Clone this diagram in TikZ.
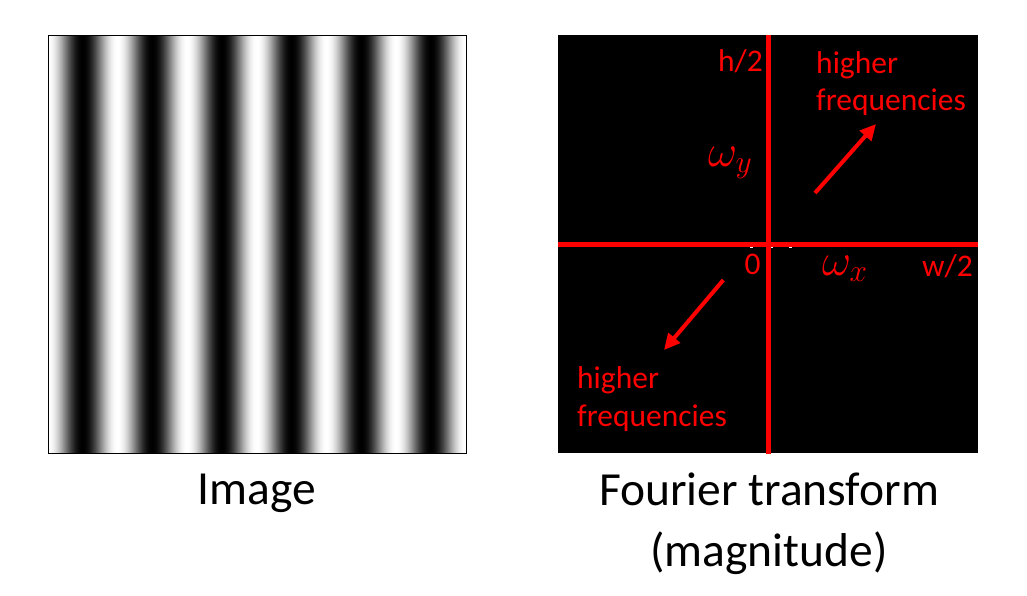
\documentclass[tikz,border=0pt]{standalone}
\usepackage{fix-cm}
\usepackage{fontspec}
\setmainfont{Carlito}
\usetikzlibrary{arrows.meta}
\begin{document}
\begin{tikzpicture}[x=1pt,y=-1pt,
  redtxt/.style={text=red,inner sep=0pt,font=\fontsize{31.5}{38}\selectfont},
  mathtxt/.style={text=red,inner sep=0pt,font=\fontsize{45}{54}\selectfont},
  captxt/.style={text=black,inner sep=0pt,font=\fontsize{47.5}{57}\selectfont},
  redarrow/.style={draw=red,line width=4pt,-{Triangle[length=16pt,width=15pt]}},
  axisline/.style={draw=red,line width=5pt},
  speck/.style={fill=white}]
\useasboundingbox[fill=white] (0,0) rectangle (1027,595);
% left image: vertical sinusoidal stripes
\begin{scope}
  \clip (48,35) rectangle (466,453);
  \foreach \i in {0,...,417} {
    \pgfmathsetmacro\v{50+50*cos(5.16746*(\i+0.5))}
    \fill[white!\v!black] (48+\i,35) rectangle (49.7+\i,453);
  }
\end{scope}
\node[draw=black,line width=1.2pt,minimum width=418pt,minimum height=418pt,inner sep=0pt,anchor=north west] (img) at (48,35) {};
% right panel
\node[fill=black,minimum width=419.5pt,minimum height=418pt,inner sep=0pt,anchor=north west] (ft) at (558,35) {};
\coordinate (vtop) at (768.3,35);
\coordinate (vbot) at (768.3,454);
\coordinate (hleft) at (558,244);
\coordinate (hright) at (977.5,244);
\draw[axisline] (hleft) -- (hright);
\draw[axisline] (vtop) -- (vbot);
\fill[speck] (749.5,246.6) rectangle (752.5,248);
\fill[speck] (770.8,246.6) rectangle (773.2,248);
\fill[speck] (788.5,246.6) rectangle (791.5,248);
% labels
\node[redtxt,anchor=base east] (h2) at (763,71.5) {h/2};
\node[redtxt,anchor=base west] (w2) at (922,276.7) {w/2};
\node[redtxt,anchor=base] (zero) at (752.5,274) {0};
\node[mathtxt,anchor=base west] (wy) at (708,166) {$\omega_y$};
\node[mathtxt,anchor=base west] (wx) at (822,275) {$\omega_x$};
\node[redtxt,anchor=base west] (hi1) at (816,73.3) {higher};
\node[redtxt,anchor=base west] (fr1) at (816,110.5) {frequencies};
\node[redtxt,anchor=base west] (hi2) at (577,388.3) {higher};
\node[redtxt,anchor=base west] (fr2) at (577,426.7) {frequencies};
% arrows
\coordinate (a1s) at (815,193);
\coordinate (a1e) at (876,124);
\coordinate (a2s) at (723.3,280);
\coordinate (a2e) at (664,350);
\draw[redarrow] (a1s) -- (a1e);
\draw[redarrow] (a2s) -- (a2e);
% captions
\node[captxt,anchor=base] (capimg) at (256.7,504) {Image};
\node[captxt,anchor=base] (capft) at (769,505) {Fourier transform};
\node[captxt,anchor=base] (capmag) at (769,566) {(magnitude)};
\end{tikzpicture}
\end{document}
